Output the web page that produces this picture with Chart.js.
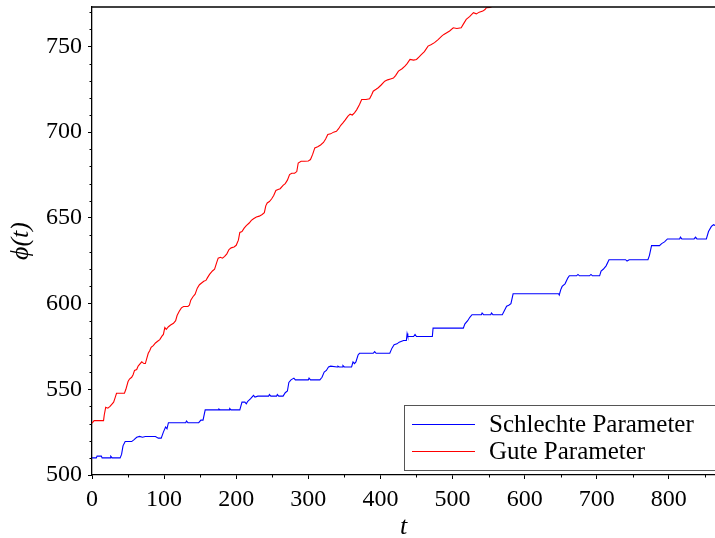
<!DOCTYPE html>
<html>
<head>
<meta charset="utf-8">
<script src="https://cdn.jsdelivr.net/npm/chart.js@4"></script>
<style>
  html, body { margin: 0; padding: 0; background: #fff; }
  #wrap { width: 715px; height: 538px; }
</style>
</head>
<body>
<div id="wrap"><canvas id="phiChart" width="715" height="538"></canvas></div>
<script>
// Schlechte Parameter (blau): [t, phi]
const blueSeries = [
  [0,510],[6,510],[7,511],[13,511],[14,510],[25,510],[26,511],[28,510],[39,510],[41,512],[43,517],[46,519.5],
  [55,519.5],[58,520.5],[62,522],[66,522.5],[70,522],[74,522.5],[80,522.5],[88,522.5],[92,521.5],[96,521.5],
  [99,525],[102,528],[104,527],[106,530.5],[130,530.5],[131,531.5],[133,530.5],[148,530.5],[151,532],[154,532],
  [157,538],[175,538],[176,538.5],[178,538],[190,538],[191,538.8],[193,538],[205,538],[208,542.5],[212,542.5],
  [214,541.5],[216,543],[220,544.5],[224,546.5],[226,545.5],[230,546],[245,546],[246,547],[248,546],[256,546],
  [257,547],[259,546],[265,546],[268,548],[271,549],[273,554],[276,555.5],[280,556.5],[282,555.5],[300,555.5],
  [301,556.5],[303,555.5],[316,555.5],[319,557],[322,560],[325,561],[328,563],[331,563.5],[340,563],[341,563.5],
  [343,563],[347,563],[348,563.8],[350,563],[360,563],[362,566],[364,565],[366,566],[369,570],[371,571],
  [390,571],[392,572],[394,571],[413,571],[416,574],[419,576],[423,576.5],[426,577.5],[432,578.5],[436,578.5],
  [437,582.5],[438,580.8],[446,580.8],[448,582],[450,580.8],[472,580.8],[473,585.7],[515,585.7],[517,588],
  [521,590],[524,592],[527,593.5],[540,593.5],[541,594.5],[543,593.5],[553,593.5],[554,594.5],[556,593.5],
  [569,593.5],[572,596],[575,598.5],[578,599],[581,600],[584,605.7],[647,605.7],[648,605],[650,608],[652,610],
  [656,611.5],[660,615],[662,616.2],[672,616.2],[674,617],[676,616.2],[690,616.2],[692,617],[694,616.2],
  [704,616.2],[706,619],[709,620],[713,622],[717,625.6],[740,625.6],[742,624.8],[745,625.6],[771,625.6],
  [773,628],[776,633.8],[787,633.8],[790,635],[794,636],[798,637.7],[815,637.7],[816,638.8],[818,637.7],
  [835,637.7],[837,638.8],[839,637.7],[852,637.7],[855,642],[859,645],[862,646],[865,645.5]
];

// Gute Parameter (rot): [t, phi]
const redSeries = [
  [0,530.2],[3,531.7],[16,531.7],[17,535],[19,539.5],[22,539],[25,540],[28,541.5],[30,542.5],[32,545],[34,547.7],
  [45,547.7],[47,550],[50,554.5],[52,556],[55,557],[57,558.5],[59,561],[62,561.5],[64,563.5],[66,564.5],[69,566],
  [72,565],[74,565],[76,568],[78,571],[80,572.5],[82,574.5],[85,575.5],[88,577],[91,578],[94,579],[97,581],
  [99,582],[101,586],[103,585],[106,586.5],[109,587.5],[113,588.5],[116,590],[118,593],[121,595.5],[124,597.5],
  [127,598.3],[133,598.3],[135,599],[137,602],[140,604],[143,605.5],[146,609],[149,611],[152,612],[155,613],
  [158,613.5],[160,615],[163,617],[167,619],[170,620],[173,624],[175,626.5],[178,627],[181,626.5],[184,627.5],
  [187,629],[190,631.5],[193,632.5],[197,633],[200,634],[203,637],[205,641.5],[208,642],[211,644],[214,645.5],
  [218,647],[221,648.5],[224,649.5],[228,650.5],[232,651],[236,652],[239,653],[241,657],[243,658.7],[246,659.5],
  [249,661],[252,663],[255,666],[258,666.5],[261,667],[265,669],[268,670],[271,672],[274,675.2],[277,676],
  [281,676],[284,677],[286,682],[290,683],[295,683],[300,683.2],[303,684],[306,687],[309,690.8],[313,691.5],
  [317,692.5],[321,694],[324,696],[327,698.6],[331,699],[335,700],[339,700.5],[342,702],[345,704],[348,705.4],
  [351,707],[355,709.3],[358,710.5],[361,710],[364,711.3],[367,713],[371,716.1],[374,719],[380,719],[385,719.5],
  [388,722],[390,723.9],[394,725],[397,725.9],[401,727.5],[406,729.7],[410,730.5],[414,731],[418,731.5],
  [421,733],[425,735.6],[430,737],[434,738.5],[437,740],[441,742.4],[446,742],[450,742.4],[454,744],[457,745.3],
  [461,747],[466,750.2],[470,751],[475,752.2],[480,754],[485,756],[488,757],[492,758],[496,759],[501,760.9],
  [506,760.5],[512,760.9],[515,763],[519,765.8],[524,767.5],[529,769.7],[533,769],[537,770],[542,770.6],
  [545,771.5],[547,772.6],[552,772.8],[556,773.5],[560,775],[570,777]
];

const seriesLabels = ['Schlechte Parameter', 'Gute Parameter'];
const xTicks = [0, 100, 200, 300, 400, 500, 600, 700, 800];
const yTicks = [500, 550, 600, 650, 700, 750];
const xMinor = [50, 150, 250, 350, 450, 550, 650, 750, 850];
const yMinor = [510, 520, 530, 540, 560, 570, 580, 590, 610, 620, 630, 640, 660, 670, 680, 690, 710, 720, 730, 740, 760, 770];

const FONT = "'Liberation Serif', 'DejaVu Serif', serif";

// kleine Ticks, oberer Rahmen und Legende
const extras = {
  id: 'extras',
  afterDraw(chart) {
    const c = chart.ctx, a = chart.chartArea;
    const xs = chart.scales.x, ys = chart.scales.y;
    c.save();
    c.strokeStyle = '#000';
    c.lineWidth = 1;
    c.beginPath();
    xMinor.forEach(v => {
      const px = Math.round(xs.getPixelForValue(v)) + 0.5;
      c.moveTo(px, a.bottom); c.lineTo(px, a.bottom + 2.5);
    });
    yMinor.forEach(v => {
      const py = Math.round(ys.getPixelForValue(v)) + 0.5;
      c.moveTo(a.left, py); c.lineTo(a.left - 2.5, py);
    });
    c.stroke();
    c.lineWidth = 1.3;
    c.beginPath();
    c.moveTo(a.left, a.top); c.lineTo(a.right, a.top);
    c.stroke();

    // Legende
    const bx = 404.5, by = 405.5, bw = 320, bh = 65;
    c.fillStyle = '#fff';
    c.fillRect(bx, by, bw, bh);
    c.strokeStyle = '#555';
    c.lineWidth = 1;
    c.strokeRect(bx, by, bw, bh);
    c.font = '25px ' + FONT;
    c.textBaseline = 'middle';
    chart.data.datasets.forEach((ds, i) => {
      const y = Math.round(424 + i * 27) + 0.5;
      c.strokeStyle = ds.borderColor;
      c.beginPath();
      c.moveTo(412, y); c.lineTo(475, y);
      c.stroke();
      c.fillStyle = '#000';
      c.fillText(ds.label, 489, y + 1);
    });
    c.restore();
  }
};

const toPts = arr => arr.map(p => ({ x: p[0], y: p[1] }));

new Chart(document.getElementById('phiChart'), {
  type: 'line',
  data: {
    datasets: [{
      label: seriesLabels[0],
      data: toPts(blueSeries),
      borderColor: '#0000ff',
      borderWidth: 1.1,
      pointRadius: 0,
      tension: 0
    }, {
      label: seriesLabels[1],
      data: toPts(redSeries),
      borderColor: '#ff0000',
      borderWidth: 1.1,
      pointRadius: 0,
      tension: 0
    }]
  },
  options: {
    responsive: false,
    animation: false,
    layout: { padding: { top: 7, right: 0, left: 0, bottom: 0 } },
    plugins: { legend: { display: false }, tooltip: { enabled: false } },
    scales: {
      x: {
        type: 'linear',
        min: 0,
        max: 864,
        afterFit: s => { s.height = 63; s.paddingLeft = 0; s.paddingRight = 0; },
        afterBuildTicks: s => { s.ticks = xTicks.map(v => ({ value: v })); },
        grid: { drawOnChartArea: false, tickLength: 4, tickColor: '#000', tickWidth: 1 },
        border: { color: '#000', width: 1.3 },
        ticks: { color: '#000', padding: 6, maxRotation: 0, font: { family: FONT, size: 24 } },
        title: { display: true, text: 't', color: '#000', padding: { top: 4, bottom: 0 },
                 font: { family: FONT, size: 26, style: 'italic', lineHeight: 0.85 } }
      },
      y: {
        min: 500,
        max: 773,
        afterFit: s => { s.width = 92; s.paddingTop = 0; s.paddingBottom = 0; },
        afterBuildTicks: s => { s.ticks = yTicks.map(v => ({ value: v })); },
        grid: { drawOnChartArea: false, tickLength: 4, tickColor: '#000', tickWidth: 1 },
        border: { color: '#000', width: 1.3 },
        ticks: { color: '#000', padding: 6, font: { family: FONT, size: 24 } },
        title: { display: true, text: 'ϕ(t)', color: '#000', padding: { top: 6, bottom: 0 },
                 font: { family: FONT, size: 26, style: 'italic' } }
      }
    }
  },
  plugins: [extras]
});
</script>
</body>
</html>
